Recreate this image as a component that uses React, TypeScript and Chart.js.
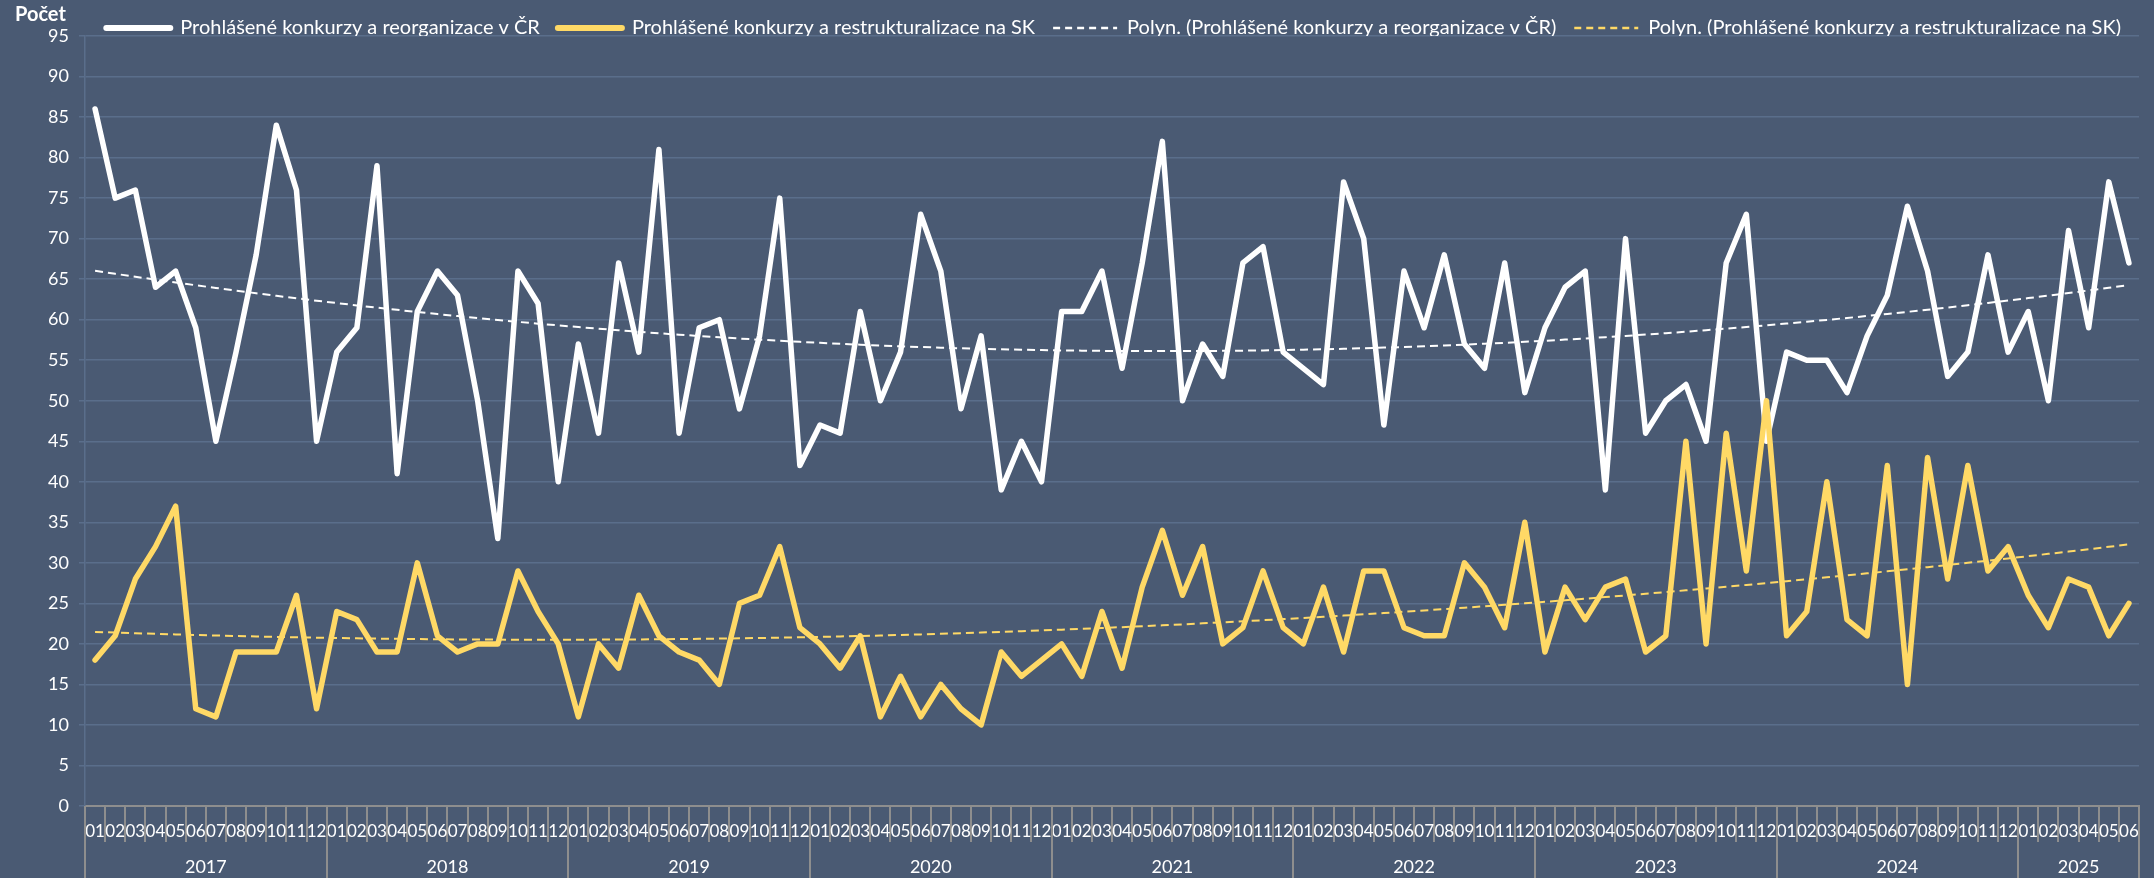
import React, { useEffect, useRef } from 'react';
import { Chart, registerables } from 'chart.js';

Chart.register(...registerables);

// ---- Data ----
const years = ['2017', '2018', '2019', '2020', '2021', '2022', '2023', '2024', '2025'];
const monthsInYear = [12, 12, 12, 12, 12, 12, 12, 12, 6];
const monthLabels = ['01', '02', '03', '04', '05', '06', '07', '08', '09', '10', '11', '12'];

const czValues = [
  86, 75, 76, 64, 66, 59, 45, 56, 68, 84, 76, 45,
  56, 59, 79, 41, 61, 66, 63, 50, 33, 66, 62, 40,
  57, 46, 67, 56, 81, 46, 59, 60, 49, 58, 75, 42,
  47, 46, 61, 50, 56, 73, 66, 49, 58, 39, 45, 40,
  61, 61, 66, 54, 67, 82, 50, 57, 53, 67, 69, 56,
  54, 52, 77, 70, 47, 66, 59, 68, 57, 54, 67, 51,
  59, 64, 66, 39, 70, 46, 50, 52, 45, 67, 73, 45,
  56, 55, 55, 51, 58, 63, 74, 66, 53, 56, 68, 56,
  61, 50, 71, 59, 77, 67,
];

const skValues = [
  18, 21, 28, 32, 37, 12, 11, 19, 19, 19, 26, 12,
  24, 23, 19, 19, 30, 21, 19, 20, 20, 29, 24, 20,
  11, 20, 17, 26, 21, 19, 18, 15, 25, 26, 32, 22,
  20, 17, 21, 11, 16, 11, 15, 12, 10, 19, 16, 18,
  20, 16, 24, 17, 27, 34, 26, 32, 20, 22, 29, 22,
  20, 27, 19, 29, 29, 22, 21, 21, 30, 27, 22, 35,
  19, 27, 23, 27, 28, 19, 21, 45, 20, 46, 29, 50,
  21, 24, 40, 23, 21, 42, 15, 43, 28, 42, 29, 32,
  26, 22, 28, 27, 21, 25,
];

const seriesNames = [
  'Prohlášené konkurzy a reorganizace v ČR',
  'Prohlášené konkurzy a restrukturalizace na SK',
  'Polyn. (Prohlášené konkurzy a reorganizace v ČR)',
  'Polyn. (Prohlášené konkurzy a restrukturalizace na SK)',
];
const yAxisTitle = 'Počet';
const yMin = 0;
const yMax = 95;
const yStep = 5;

// ---- Styling ----
const FONT = 'Lato, "Open Sans", "DejaVu Sans", sans-serif';
const BG = '#4A5A73';
const GRID = '#5A6E8B';
const AXIS = '#8E8E8E';
const WHITE = '#FFFFFF';
const GOLD = '#FFD966';

// quadratic least-squares trend (Excel "Polynomial" trendline, order 2)
function polyTrend(values: number[]): number[] {
  const n = values.length;
  let s0 = 0, s1 = 0, s2 = 0, s3 = 0, s4 = 0, t0 = 0, t1 = 0, t2 = 0;
  for (let i = 0; i < n; i++) {
    const x = i + 1;
    const y = values[i];
    s0 += 1; s1 += x; s2 += x * x; s3 += x * x * x; s4 += x * x * x * x;
    t0 += y; t1 += x * y; t2 += x * x * y;
  }
  const M = [
    [s0, s1, s2, t0],
    [s1, s2, s3, t1],
    [s2, s3, s4, t2],
  ];
  for (let c = 0; c < 3; c++) {
    let p = c;
    for (let r = c + 1; r < 3; r++) if (Math.abs(M[r][c]) > Math.abs(M[p][c])) p = r;
    [M[c], M[p]] = [M[p], M[c]];
    for (let r = 0; r < 3; r++) {
      if (r === c) continue;
      const f = M[r][c] / M[c][c];
      for (let k = c; k < 4; k++) M[r][k] -= f * M[c][k];
    }
  }
  const a = M[0][3] / M[0][0];
  const b = M[1][3] / M[1][1];
  const cc = M[2][3] / M[2][2];
  return values.map((_, i) => a + b * (i + 1) + cc * (i + 1) * (i + 1));
}

export default function App() {
  const canvasRef = useRef<HTMLCanvasElement | null>(null);

  useEffect(() => {
    document.body.style.margin = '0';
    document.body.style.background = BG;
    const canvas = canvasRef.current;
    if (!canvas) return;

    const categories: string[] = [];
    monthsInYear.forEach((count) => {
      for (let m = 0; m < count; m++) categories.push(monthLabels[m]);
    });

    const extras = {
      id: 'extras',
      afterDraw(chart: any) {
        const { ctx, chartArea } = chart;
        const x = chart.scales.x;
        ctx.save();
        // axis title
        ctx.fillStyle = WHITE;
        ctx.font = `bold 20px ${FONT}`;
        ctx.textAlign = 'left';
        ctx.textBaseline = 'middle';
        ctx.fillText(yAxisTitle, 15, 15);

        // year groups
        const step = x.getPixelForValue(1) - x.getPixelForValue(0);
        ctx.strokeStyle = AXIS;
        ctx.lineWidth = 2;
        ctx.font = `18px ${FONT}`;
        ctx.textAlign = 'center';
        let idx = 0;
        let lastRight = 0;
        years.forEach((yr, k) => {
          const start = idx;
          const end = idx + monthsInYear[k] - 1;
          const left = x.getPixelForValue(start) - step / 2;
          const right = x.getPixelForValue(end) + step / 2;
          ctx.beginPath();
          ctx.moveTo(Math.round(left), chartArea.bottom);
          ctx.lineTo(Math.round(left), chart.height);
          ctx.stroke();
          ctx.fillText(yr, (left + right) / 2, 867);
          lastRight = right;
          idx = end + 1;
        });
        ctx.beginPath();
        ctx.moveTo(Math.round(lastRight), chartArea.bottom);
        ctx.lineTo(Math.round(lastRight), chart.height);
        ctx.stroke();
        ctx.restore();
      },
    };

    const chart = new Chart(canvas, {
      type: 'line',
      data: {
        labels: categories,
        datasets: [
          {
            label: seriesNames[0],
            data: czValues,
            borderColor: WHITE,
            backgroundColor: WHITE,
            borderWidth: 5.5,
            pointRadius: 0,
            tension: 0,
            borderJoinStyle: 'round',
            borderCapStyle: 'round',
            order: 1,
          },
          {
            label: seriesNames[1],
            data: skValues,
            borderColor: GOLD,
            backgroundColor: GOLD,
            borderWidth: 5.5,
            pointRadius: 0,
            tension: 0,
            borderJoinStyle: 'round',
            borderCapStyle: 'round',
            order: 0,
          },
          {
            label: seriesNames[2],
            data: polyTrend(czValues),
            borderColor: WHITE,
            backgroundColor: WHITE,
            borderWidth: 2,
            borderDash: [8, 5],
            pointRadius: 0,
            tension: 0,
            order: 2,
          },
          {
            label: seriesNames[3],
            data: polyTrend(skValues),
            borderColor: GOLD,
            backgroundColor: GOLD,
            borderWidth: 2,
            borderDash: [8, 5],
            pointRadius: 0,
            tension: 0,
            order: 3,
          },
        ],
      },
      options: {
        responsive: false,
        maintainAspectRatio: false,
        animation: false,
        events: [],
        layout: { padding: { left: 0, right: 15, top: 0, bottom: 0 } },
        plugins: {
          tooltip: { enabled: false },
          legend: {
            position: 'top',
            align: 'end',
            maxHeight: 36,
            labels: {
              usePointStyle: true,
              pointStyle: 'line',
              pointStyleWidth: 64,
              color: WHITE,
              padding: 18,
              font: { family: FONT, size: 20 },
              sort: (a: any, b: any) => a.datasetIndex - b.datasetIndex,
              generateLabels: (ch: any) => {
                const base = Chart.defaults.plugins.legend.labels.generateLabels(ch);
                return base.map((item: any) => {
                  const ds = ch.data.datasets[item.datasetIndex];
                  const dashed = Array.isArray(ds.borderDash) && ds.borderDash.length > 0;
                  return {
                    ...item,
                    pointStyle: 'line',
                    strokeStyle: ds.borderColor,
                    fillStyle: ds.borderColor,
                    lineWidth: dashed ? 2.5 : 6,
                    lineDash: dashed ? [7, 5] : [],
                    lineCap: dashed ? 'butt' : 'round',
                  };
                });
              },
            },
          },
        },
        scales: {
          x: {
            type: 'category',
            offset: true,
            grid: {
              offset: true,
              drawOnChartArea: false,
              drawTicks: true,
              tickLength: 36,
              color: AXIS,
              lineWidth: 2,
            },
            border: { color: AXIS, width: 2 },
            ticks: {
              autoSkip: false,
              maxRotation: 0,
              minRotation: 0,
              color: WHITE,
              padding: -21,
              font: { family: FONT, size: 17 },
            },
            afterFit(scale: any) {
              scale.height = 72;
            },
          },
          y: {
            min: yMin,
            max: yMax,
            ticks: {
              stepSize: yStep,
              color: WHITE,
              padding: 10,
              font: { family: FONT, size: 18 },
            },
            grid: { color: GRID, lineWidth: 1.5, tickLength: 6 },
            border: { color: GRID, width: 1.5 },
            afterFit(scale: any) {
              scale.width = 85;
            },
          },
        },
      },
      plugins: [extras],
    } as any);

    return () => chart.destroy();
  }, []);

  return (
    <div style={{ width: 2154, height: 878, background: BG, overflow: 'hidden' }}>
      <canvas ref={canvasRef} width={2154} height={878} style={{ display: 'block', background: BG }} />
    </div>
  );
}
